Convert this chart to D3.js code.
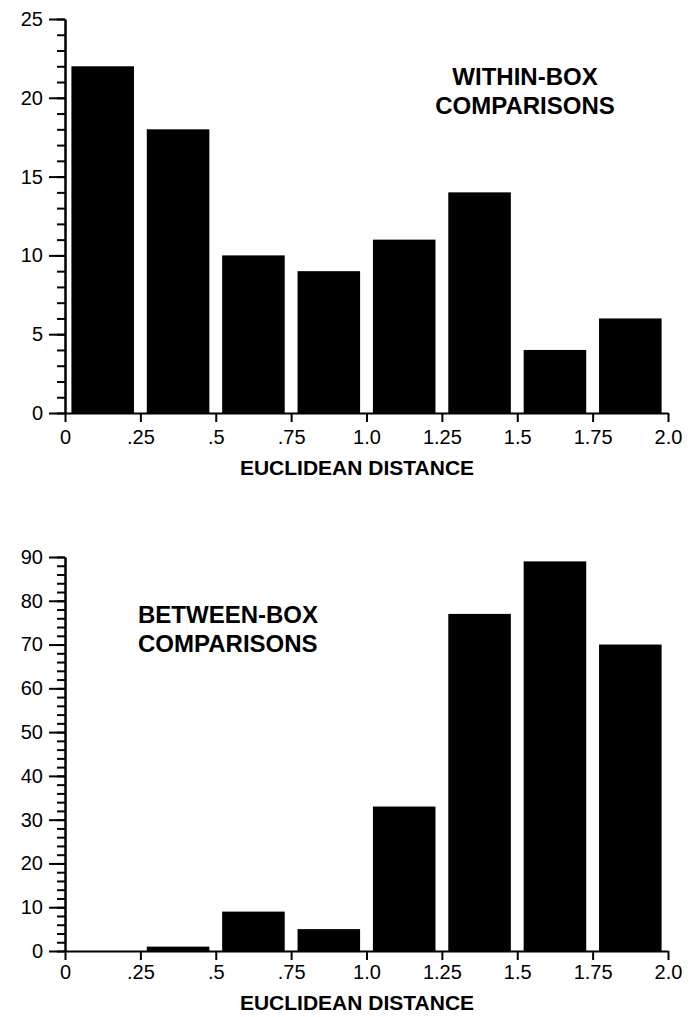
<!DOCTYPE html>
<html>
<head>
<meta charset="utf-8">
<script src="https://cdn.jsdelivr.net/npm/d3@7"></script>
<style>
  body { margin: 0; background: #fff; }
  svg { display: block; font-family: "Liberation Sans", Arial, Helvetica, sans-serif; }
  .axis path, .axis line { stroke: #000; stroke-width: 2; }
  .axis text { font-size: 20px; fill: #000; }
  .title { font-size: 24px; font-weight: bold; }
  .xlabel { font-size: 21px; font-weight: bold; }
</style>
</head>
<body>
<div id="chart"></div>
<script>
// histogram bins (euclidean distance, step .25)
const bins = ["0-.25", ".25-.5", ".5-.75", ".75-1.0", "1.0-1.25", "1.25-1.5", "1.5-1.75", "1.75-2.0"];
const withinCounts = [22, 18, 10, 9, 11, 14, 4, 6];
const betweenCounts = [0, 1, 9, 5, 33, 77, 89, 70];

const xTicks = [0, 0.25, 0.5, 0.75, 1.0, 1.25, 1.5, 1.75, 2.0];
const xTickLabels = ["0", ".25", ".5", ".75", "1.0", "1.25", "1.5", "1.75", "2.0"];
const withinYTicks = [0, 5, 10, 15, 20, 25];
const betweenYTicks = [0, 10, 20, 30, 40, 50, 60, 70, 80, 90];

const width = 693, height = 1017;
const left = 65, right = 668;

const svg = d3.select("#chart").append("svg")
  .attr("width", width)
  .attr("height", height);

function panel(counts, yTicks, minorStep, top, bottom, labelGap, titleLines, titlePos) {
  const yMax = yTicks[yTicks.length - 1];
  const x = d3.scaleLinear().domain([0, 2]).range([left, right]);
  const band = d3.scaleBand().domain(bins).range([left, right])
    .paddingInner(0.17).paddingOuter(0.085);
  const y = d3.scaleLinear().domain([0, yMax]).range([bottom, top]);

  const g = svg.append("g");

  g.selectAll("rect")
    .data(counts)
    .enter()
    .append("rect")
    .attr("x", (d, i) => band(bins[i]))
    .attr("width", band.bandwidth())
    .attr("y", d => y(d))
    .attr("height", d => y(0) - y(d))
    .attr("fill", "#000");

  // minor ticks
  g.append("g")
    .attr("class", "axis")
    .attr("transform", `translate(${left},0)`)
    .call(d3.axisLeft(y).tickValues(d3.range(0, yMax + minorStep / 2, minorStep))
      .tickSize(8).tickSizeOuter(0).tickFormat(""));

  g.append("g")
    .attr("class", "axis")
    .attr("transform", `translate(${left},0)`)
    .call(d3.axisLeft(y).tickValues(yTicks).tickSize(16).tickSizeOuter(0).tickPadding(6));

  g.append("g")
    .attr("class", "axis")
    .attr("transform", `translate(0,${bottom})`)
    .call(d3.axisBottom(x).tickValues(xTicks).tickSize(9).tickSizeOuter(0).tickPadding(labelGap)
      .tickFormat((d, i) => xTickLabels[i]));

  g.selectAll(".axis").attr("font-size", null).attr("font-family", null);

  g.append("text")
    .attr("class", "xlabel")
    .attr("x", 357)
    .attr("y", bottom + labelGap + 54)
    .attr("text-anchor", "middle")
    .text("EUCLIDEAN DISTANCE");

  g.selectAll(".title")
    .data(titleLines)
    .enter()
    .append("text")
    .attr("class", "title")
    .attr("x", titlePos.x)
    .attr("y", (d, i) => titlePos.y + i * 29)
    .attr("text-anchor", titlePos.anchor)
    .text(d => d);
}

panel(withinCounts, withinYTicks, 1, 19, 413, 8,
  ["WITHIN-BOX", "COMPARISONS"], { x: 525, y: 85, anchor: "middle" });
panel(betweenCounts, betweenYTicks, 2, 557, 951, 5,
  ["BETWEEN-BOX", "COMPARISONS"], { x: 138, y: 623, anchor: "start" });
</script>
</body>
</html>
